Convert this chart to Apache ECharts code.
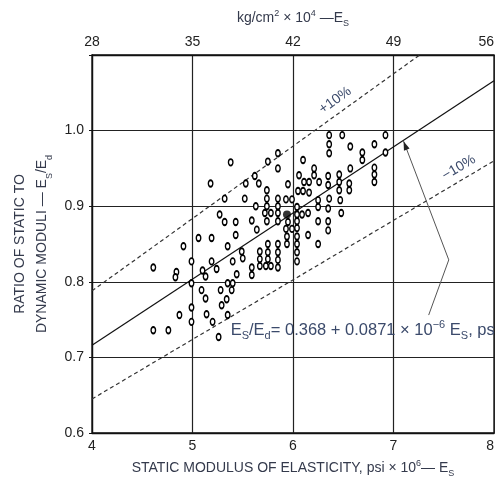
<!DOCTYPE html>
<html>
<head>
<meta charset="utf-8">
<script src="https://cdn.jsdelivr.net/npm/echarts@6/dist/echarts.min.js"></script>
<style>
  html, body { margin: 0; padding: 0; background: #fff; }
  #chart { width: 495px; height: 480px; }
</style>
</head>
<body>
<div id="chart"></div>
<script>
// static modulus Es, psi x 10^6
const modulus = [
  5.38, 5.18, 5.53, 5.62, 5.66, 5.75, 5.85, 5.85, 5.74, 5.74,
  5.85, 5.95, 5.93, 5.99, 5.32, 5.52, 6.10, 6.06, 6.11, 6.16,
  6.05, 6.10, 6.16, 6.21, 6.21, 6.26, 6.25, 6.36, 6.36, 6.36,
  6.49, 6.57, 6.35, 6.35, 6.36, 6.46, 6.46, 6.46, 6.47, 6.57,
  6.56, 6.56, 6.69, 6.69, 6.81, 6.81, 6.81, 6.81, 6.92, 6.92,
  5.63, 5.74, 5.72, 5.78, 5.74, 5.85, 5.85, 5.85, 5.95, 5.93,
  5.99, 6.04, 6.04, 6.04, 6.04, 6.09, 6.15, 6.25, 6.25, 6.35,
  6.35, 6.35, 6.48, 5.27, 5.32, 5.43, 5.59, 5.64, 5.43, 6.15,
  5.94, 5.94, 6.04, 6.04, 6.04, 6.04, 6.25, 5.75, 5.75, 5.75,
  5.73, 5.78, 5.85, 5.85, 5.85, 5.85, 5.67, 5.67, 5.67, 5.59,
  5.59, 5.35, 5.49, 5.50, 5.40, 5.44, 5.06, 5.19, 4.91, 4.99,
  5.19, 5.10, 5.13, 5.24, 4.61, 4.84, 4.83, 5.35, 5.40, 5.39,
  4.99, 5.09, 5.13, 5.28, 5.34, 4.99, 4.99, 5.14, 5.20, 5.29,
  5.35, 4.87, 4.61, 4.76, 5.26
];
// ratio of static to dynamic moduli Es/Ed
const ratio = [
  0.958, 0.930, 0.930, 0.940, 0.930, 0.959, 0.970, 0.950, 0.921, 0.910,
  0.910, 0.929, 0.909, 0.909, 0.910, 0.910, 0.961, 0.941, 0.932, 0.932,
  0.920, 0.920, 0.918, 0.950, 0.941, 0.932, 0.908, 0.994, 0.982, 0.970,
  0.994, 0.979, 0.940, 0.928, 0.910, 0.942, 0.932, 0.921, 0.908, 0.950,
  0.930, 0.921, 0.971, 0.961, 0.982, 0.951, 0.942, 0.932, 0.994, 0.971,
  0.900, 0.900, 0.891, 0.891, 0.880, 0.900, 0.891, 0.880, 0.879, 0.870,
  0.870, 0.899, 0.889, 0.880, 0.871, 0.889, 0.891, 0.899, 0.880, 0.897,
  0.880, 0.868, 0.891, 0.889, 0.879, 0.879, 0.881, 0.869, 0.862, 0.862,
  0.860, 0.850, 0.860, 0.850, 0.839, 0.827, 0.850, 0.850, 0.839, 0.830,
  0.821, 0.821, 0.850, 0.839, 0.829, 0.819, 0.840, 0.830, 0.821, 0.819,
  0.809, 0.847, 0.840, 0.831, 0.827, 0.810, 0.858, 0.858, 0.847, 0.827,
  0.827, 0.815, 0.807, 0.817, 0.819, 0.813, 0.806, 0.798, 0.798, 0.789,
  0.798, 0.789, 0.778, 0.789, 0.777, 0.766, 0.747, 0.757, 0.747, 0.769,
  0.756, 0.756, 0.736, 0.736, 0.727
];
const meanPoint = [5.94, 0.889];

// fitted line and +/-10% bands (end points)
const fitLine = [[4, 0.716], [8, 1.066]];
const upperLine = [[4, 0.788], [7.26, 1.1]];
const lowerLine = [[4, 0.645], [8, 0.96]];

const psiTicks = [4, 5, 6, 7, 8];
const kgTicks = [28, 35, 42, 49, 56];
const ratioTicks = [0.6, 0.7, 0.8, 0.9, 1.0];
const ratioMax = 1.1;

const font = 'Liberation Sans, Arial, Helvetica, sans-serif';
const titleColor = '#343a4c';
const noteColor = '#3b4a6b';

const scriptStyles = {
  sup: { fontSize: 9, lineHeight: 12, verticalAlign: 'top', fontFamily: font },
  sub: { fontSize: 9, lineHeight: 12, verticalAlign: 'bottom', fontFamily: font }
};

const chart = echarts.init(document.getElementById('chart'));

const option = {
  animation: false,
  backgroundColor: '#fff',
  textStyle: { fontFamily: font },
  grid: {
    left: 92, right: 1, top: 55, bottom: 47,
    show: true, borderColor: '#111', borderWidth: 1.3,
    containLabel: false, outerBoundsMode: 'none'
  },
  xAxis: [
    {
      type: 'value',
      position: 'bottom',
      min: psiTicks[0], max: psiTicks[psiTicks.length - 1], interval: 1,
      name: 'STATIC MODULUS OF ELASTICITY, psi × 10{sup|6}— E{sub|S}',
      nameLocation: 'middle',
      nameGap: 26,
      nameTextStyle: { fontSize: 14, color: titleColor, lineHeight: 19, rich: scriptStyles },
      axisLine: { show: true, lineStyle: { color: '#111', width: 1.3 } },
      axisTick: { show: false },
      axisLabel: { fontSize: 14, color: '#222', margin: 6, alignMaxLabel: 'right' },
      splitLine: { show: true, lineStyle: { color: '#222', width: 1.2 } }
    },
    {
      type: 'value',
      position: 'top',
      min: kgTicks[0], max: kgTicks[kgTicks.length - 1], interval: 7,
      name: 'kg/cm{sup|2} × 10{sup|4} —E{sub|S}',
      nameLocation: 'middle',
      nameGap: 27,
      nameTextStyle: { fontSize: 14, color: titleColor, lineHeight: 19, rich: scriptStyles },
      axisLine: { show: true, lineStyle: { color: '#111', width: 1.3 } },
      axisTick: { show: false },
      axisLabel: { fontSize: 14, color: '#222', margin: 6, alignMaxLabel: 'right' },
      splitLine: { show: false }
    }
  ],
  yAxis: {
    type: 'value',
    min: ratioTicks[0], max: ratioMax, interval: 0.1,
    name: 'RATIO OF STATIC TO\nDYNAMIC MODULI — E{sub|S}/E{sub|d}',
    nameLocation: 'middle',
    nameRotate: 90,
    nameGap: 34,
    nameTextStyle: { fontSize: 14, color: titleColor, lineHeight: 22, rich: scriptStyles },
    axisLine: { show: true, lineStyle: { color: '#111', width: 1.3 } },
    axisTick: { show: true, length: 3, lineStyle: { color: '#111' } },
    axisLabel: {
      fontSize: 14, color: '#222', margin: 8,
      formatter: v => ratioTicks.some(t => Math.abs(t - v) < 1e-6) ? v.toFixed(1) : ''
    },
    splitLine: { show: true, lineStyle: { color: '#222', width: 1.2 } }
  },
  series: [
    {
      type: 'line', data: fitLine, symbol: 'none', silent: true, z: 2,
      lineStyle: { color: '#111', width: 1.2 }
    },
    {
      type: 'line', data: upperLine, symbol: 'none', silent: true, z: 2,
      lineStyle: { color: '#333', width: 1.2, type: [4, 3] }
    },
    {
      type: 'line', data: lowerLine, symbol: 'none', silent: true, z: 2,
      lineStyle: { color: '#333', width: 1.2, type: [4, 3] }
    },
    {
      type: 'scatter', z: 4,
      data: modulus.map((x, i) => [x, ratio[i]]),
      symbol: 'circle', symbolSize: [4.5, 6.5],
      itemStyle: { color: '#fff', borderColor: '#000', borderWidth: 1.6, opacity: 1 }
    },
    {
      type: 'scatter', z: 5,
      data: [meanPoint],
      symbol: 'circle', symbolSize: 8,
      itemStyle: { color: '#000' }
    }
  ]
};

chart.setOption(option);

// annotations positioned in data coordinates
const toPx = p => chart.convertToPixel({ xAxisIndex: 0, yAxisIndex: 0 }, p);
const arrowTip = toPx([7.1, 0.986]);
const arrowKnee = toPx([7.55, 0.829]);
const arrowTail = toPx([7.35, 0.756]);
const dx = arrowTip[0] - arrowKnee[0], dy = arrowTip[1] - arrowKnee[1];
const len = Math.sqrt(dx * dx + dy * dy);
const ux = dx / len, uy = dy / len;
const headLen = 9, headHalf = 3;
const head = [
  arrowTip,
  [arrowTip[0] - ux * headLen - uy * headHalf, arrowTip[1] - uy * headLen + ux * headHalf],
  [arrowTip[0] - ux * headLen + uy * headHalf, arrowTip[1] - uy * headLen - ux * headHalf]
];

const angleOf = line => {
  const a = toPx(line[0]), b = toPx(line[1]);
  return Math.atan2(a[1] - b[1], b[0] - a[0]);
};

const plusPos = toPx([6.42, 1.04]);
const minusPos = toPx([7.65, 0.951]);
const eqPos = toPx([5.38, 0.736]);

chart.setOption({
  graphic: [
    {
      type: 'polyline', z: 10, silent: true,
      shape: { points: [arrowTail, arrowKnee, arrowTip] },
      style: { stroke: '#555', lineWidth: 1, fill: null }
    },
    {
      type: 'polygon', z: 10, silent: true,
      shape: { points: head },
      style: { fill: '#222' }
    },
    {
      type: 'text', z: 10, silent: true,
      x: plusPos[0], y: plusPos[1], rotation: angleOf(upperLine),
      style: { text: '+10%', font: '14px ' + font, fill: noteColor, align: 'center', verticalAlign: 'middle' }
    },
    {
      type: 'text', z: 10, silent: true,
      x: minusPos[0], y: minusPos[1], rotation: angleOf(lowerLine),
      style: { text: '\u221210%', font: '14px ' + font, fill: noteColor, align: 'center', verticalAlign: 'middle' }
    },
    {
      type: 'text', z: 10, silent: true,
      x: eqPos[0], y: eqPos[1],
      style: {
        text: 'E{sub|S}/E{sub|d}= 0.368 + 0.0871 × 10{sup|\u22126} E{sub|S}, psi',
        font: '16.5px ' + font, fill: noteColor, align: 'left', verticalAlign: 'middle',
        lineHeight: 22,
        rich: {
          sup: { fontSize: 11, lineHeight: 13, verticalAlign: 'top', fontFamily: font, fill: noteColor },
          sub: { fontSize: 11, lineHeight: 13, verticalAlign: 'bottom', fontFamily: font, fill: noteColor }
        }
      }
    }
  ]
});
</script>
</body>
</html>
